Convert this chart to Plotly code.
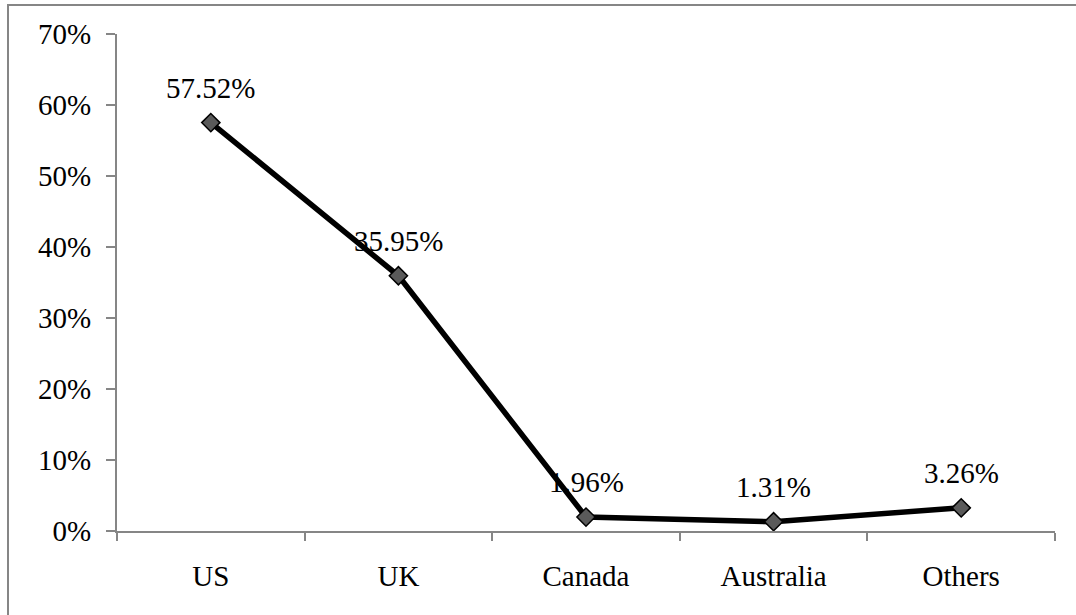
import plotly.graph_objects as go

categories = ["US", "UK", "Canada", "Australia", "Others"]
values = [57.52, 35.95, 1.96, 1.31, 3.26]
labels = ["57.52%", "35.95%", "1.96%", "1.31%", "3.26%"]
y_ticks = [0, 10, 20, 30, 40, 50, 60, 70]
y_tick_text = ["0%", "10%", "20%", "30%", "40%", "50%", "60%", "70%"]

FONT = "'Times New Roman', 'Liberation Serif', 'DejaVu Serif', serif"
FS = 29
AXIS_COLOR = "#868686"

fig = go.Figure()
fig.add_trace(go.Scatter(
    x=categories, y=values, mode="lines+markers",
    line=dict(color="black", width=5.5),
    marker=dict(symbol="diamond", size=14, color="#5a5a5a",
                line=dict(color="black", width=1.5)),
    hoverinfo="skip", showlegend=False,
))

for c, v, t in zip(categories, values, labels):
    fig.add_annotation(x=c, y=v, text=t, showarrow=False,
                       yanchor="bottom", yshift=17,
                       font=dict(family=FONT, size=FS, color="black"))

fig.update_layout(
    width=1076, height=615,
    margin=dict(l=117, r=21, t=34, b=84),
    paper_bgcolor="white", plot_bgcolor="white",
    font=dict(family=FONT, size=FS, color="black"),
    xaxis=dict(
        type="category", range=[-0.5, 4.5],
        showline=True, linecolor=AXIS_COLOR, linewidth=2,
        ticks="outside", tickson="boundaries", ticklen=8, tickwidth=2,
        tickcolor=AXIS_COLOR, showgrid=False, zeroline=False,
        ticklabelstandoff=18, tickfont=dict(family=FONT, size=FS),
    ),
    yaxis=dict(
        range=[0, 70], tickvals=y_ticks, ticktext=y_tick_text,
        showline=True, linecolor=AXIS_COLOR, linewidth=2,
        ticks="outside", ticklen=9, tickwidth=2, tickcolor=AXIS_COLOR,
        showgrid=False, zeroline=False, ticklabelstandoff=9,
        tickfont=dict(family=FONT, size=FS),
    ),
    shapes=[dict(type="rect", xref="paper", yref="paper",
                 x0=(8 - 117) / 938, x1=(1090 - 117) / 938,
                 y0=(531 - 630) / 497, y1=(531 - 5) / 497,
                 line=dict(color=AXIS_COLOR, width=2), layer="below")],
)

fig.write_html("out.html")
